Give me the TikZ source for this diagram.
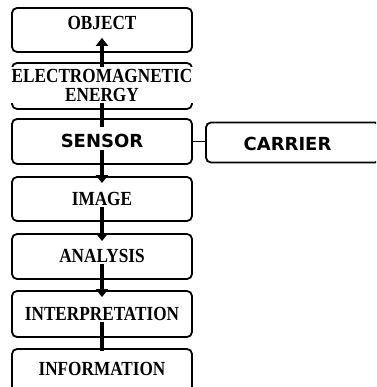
\documentclass[tikz,border=0pt]{standalone}
\usepackage{fontspec}
\newfontfamily\rsserif{Liberation Serif}[FakeStretch=0.86]
\newfontfamily\rssans{DejaVu Sans}
\usetikzlibrary{arrows.meta}
\begin{document}
\begin{tikzpicture}[x=1pt,y=-1pt,
  box/.style={draw, line width=1.8pt, rounded corners=5pt, minimum width=180pt, inner sep=0pt},
  lbl/.style={fill=white, inner sep=1.5pt, anchor=base, align=center, font=\rsserif\bfseries\fontsize{20}{19}\selectfont},
  slbl/.style={inner sep=1.5pt, fill=white, anchor=base, font=\rssans\bfseries\fontsize{18}{20}\selectfont},
  flow/.style={line width=4.5pt},
  tip/.style={-{Triangle[width=12pt,length=8pt]}}]
\useasboundingbox (0,0) rectangle (376,387);
\clip (0,0) rectangle (376,387);
% boxes
\node[box, minimum height=44pt] (obj) at (102,30) {};
\node[box, minimum height=46pt] (em) at (102,86) {};
\node[box, minimum height=45pt] (sen) at (102,141.5) {};
\node[box, minimum width=174pt, minimum height=40pt] (car) at (293,142.5) {};
\node[box, minimum height=44pt] (img) at (102,199) {};
\node[box, minimum height=45pt] (ana) at (102,256.5) {};
\node[box, minimum height=46pt] (int) at (102,314) {};
\node[box, minimum height=45pt] (inf) at (102,371.5) {};
% connectors
\draw[flow, tip] (em.center) -- ([yshift=15pt]obj.south);
\draw[flow] (em.center) -- ([yshift=-9pt]sen.north);
\draw[flow, tip] (sen.center) -- ([yshift=-7pt]img.north);
\draw[flow, tip] (img.center) -- ([yshift=-8pt]ana.north);
\draw[flow, tip] (ana.center) -- ([yshift=-7pt]int.north);
\draw[flow] (int.center) -- ([yshift=-3pt]inf.north);
\draw[line width=1.5pt] (sen.east) -- (sen.east -| car.west);
% labels
\node[lbl] (tobj) at (102,30) {OBJECT};
\node[lbl, anchor=center] (tem) at (102,85) {ELECTROMAGNETIC\\ENERGY};
\node[slbl] (tsen) at (102,148) {SENSOR};
\node[slbl] (tcar) at (287.5,150) {CARRIER};
\node[lbl] (timg) at (102,205) {IMAGE};
\node[lbl] (tana) at (102,262) {ANALYSIS};
\node[lbl] (tint) at (102,320) {INTERPRETATION};
\node[lbl] (tinf) at (102,375) {INFORMATION};
\end{tikzpicture}
\end{document}
